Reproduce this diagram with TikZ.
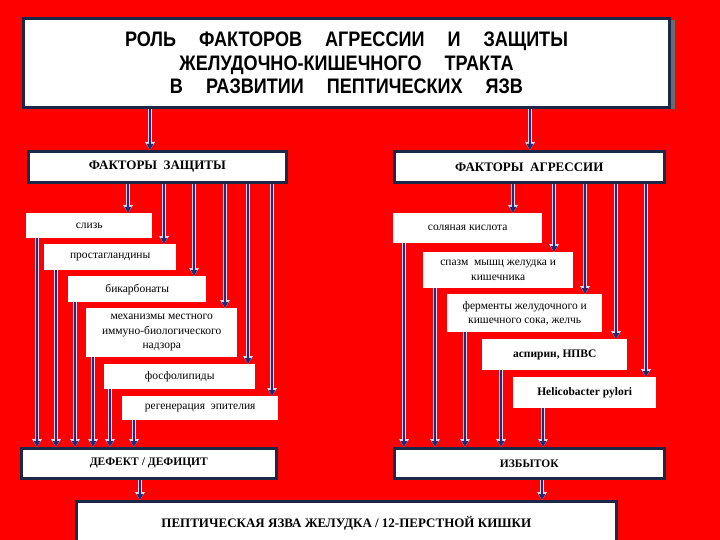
\documentclass[tikz,border=0pt]{standalone}
\usepackage{fontspec}
\setmainfont{Liberation Serif}
\newfontfamily\titlefont[FakeStretch=0.86]{Liberation Sans}
\usetikzlibrary{arrows.meta,shadows}

\definecolor{bgred}{RGB}{254,0,0}
\definecolor{framenavy}{RGB}{28,40,72}
\definecolor{arrnavy}{RGB}{30,45,120}
\definecolor{arredge}{RGB}{225,210,240}
\definecolor{shadegrey}{RGB}{105,105,115}

\begin{document}
\begin{tikzpicture}[x=1pt,y=-1pt,line join=miter,
  every node/.style={inner sep=1pt},
  frame/.style={draw=framenavy,line width=2.6pt,fill=white,anchor=north west,align=center},
  item/.style={fill=white,anchor=north west,align=center,font=\fontsize{11.5}{14.5}\selectfont},
  head/.style={font=\fontsize{13}{15}\selectfont\bfseries},
  arr/.style={-{Triangle[width=6.5pt,length=6pt]},line width=2pt,draw=arrnavy,fill=arrnavy,
    preaction={draw=arredge,line width=3.4pt,-{Triangle[width=9.5pt,length=8pt]}}}]
  \fill[bgred] (0,0) rectangle (720,540);
  \useasboundingbox (0,0) rectangle (720,540);

  % title
  \node[frame,line width=3pt,minimum width=646,minimum height=89,
    drop shadow={shadow xshift=5pt,shadow yshift=-2pt,fill=shadegrey,opacity=1},
    font=\titlefont\bfseries\fontsize{21}{23.5}\selectfont] (tt) at (22,17)
    {РОЛЬ\hspace{23pt}ФАКТОРОВ\hspace{23pt}АГРЕССИИ\hspace{23pt}И\hspace{23pt}ЗАЩИТЫ\\
     ЖЕЛУДОЧНО-КИШЕЧНОГО\hspace{23pt}ТРАКТА\\
     В\hspace{23pt}РАЗВИТИИ\hspace{23pt}ПЕПТИЧЕСКИХ\hspace{23pt}ЯЗВ};

  % headers
  \node[frame,head,minimum width=258,minimum height=31] (fz) at (27,150) {ФАКТОРЫ\ \ ЗАЩИТЫ};
  \node[frame,head,minimum width=270,minimum height=31] (fa) at (393,150) {ФАКТОРЫ\ \ АГРЕССИИ};
  \node[frame,head,font=\fontsize{11.5}{14}\selectfont\bfseries,minimum width=255,minimum height=30] (df) at (20,447) {ДЕФЕКТ / ДЕФИЦИТ};
  \node[frame,head,font=\fontsize{11.5}{14}\selectfont\bfseries,minimum width=270,minimum height=30] (iz) at (393,447) {ИЗБЫТОК};
  \node[frame,head,minimum width=540,minimum height=44] (pu) at (75,500) {ПЕПТИЧЕСКАЯ ЯЗВА ЖЕЛУДКА / 12-ПЕРСТНОЙ КИШКИ};

  % factors
  \foreach \nm/\x/\y/\w/\h/\txt in {
    sl/26/213/126/25/{слизь},
    pg/44/244/132/26/{простагландины},
    bk/68/276/138/26/{бикарбонаты},
    mx/86/308/151/49/{механизмы местного\\иммуно-биологического\\надзора},
    fl/104/364/151/25/{фосфолипиды},
    rg/122/396/156/24/{регенерация\ \ эпителия},
    sk/393/213/149/30/{соляная кислота},
    sp/423/252/150/36/{спазм\ \ мышц желудка и\\кишечника},
    fr/447/294/155/38/{ферменты желудочного и\\кишечного сока, желчь},
    as/482/339/145/31/{\bfseries аспирин, НПВС},
    hp/513/377/143/31/{\bfseries Helicobacter pylori}}
    \node[item,minimum width=\w,minimum height=\h] (\nm) at (\x,\y) {\txt};

  % connectors
  \draw[arr] (tt.south -| 150,0) -- (fz.north -| 150,0);
  \draw[arr] (tt.south -| 530,0) -- (fa.north -| 530,0);
  \foreach \nm/\x in {sl/128,pg/164,bk/194,mx/225,fl/248,rg/272}
    \draw[arr] (fz.south -| \x,0) -- (\nm.north -| \x,0);
  \foreach \nm/\x in {sl/37,pg/56,bk/75,mx/93,fl/110,rg/134}
    \draw[arr] (\nm.south -| \x,0) -- (df.north -| \x,0);
  \foreach \nm/\x in {sk/513,sp/554,fr/585,as/616,hp/646}
    \draw[arr] (fa.south -| \x,0) -- (\nm.north -| \x,0);
  \foreach \nm/\x in {sk/404,sp/435,fr/465,as/501,hp/543}
    \draw[arr] (\nm.south -| \x,0) -- (iz.north -| \x,0);
  \draw[arr] (df.south -| 140,0) -- (pu.north -| 140,0);
  \draw[arr] (iz.south -| 542,0) -- (pu.north -| 542,0);
\end{tikzpicture}
\end{document}
